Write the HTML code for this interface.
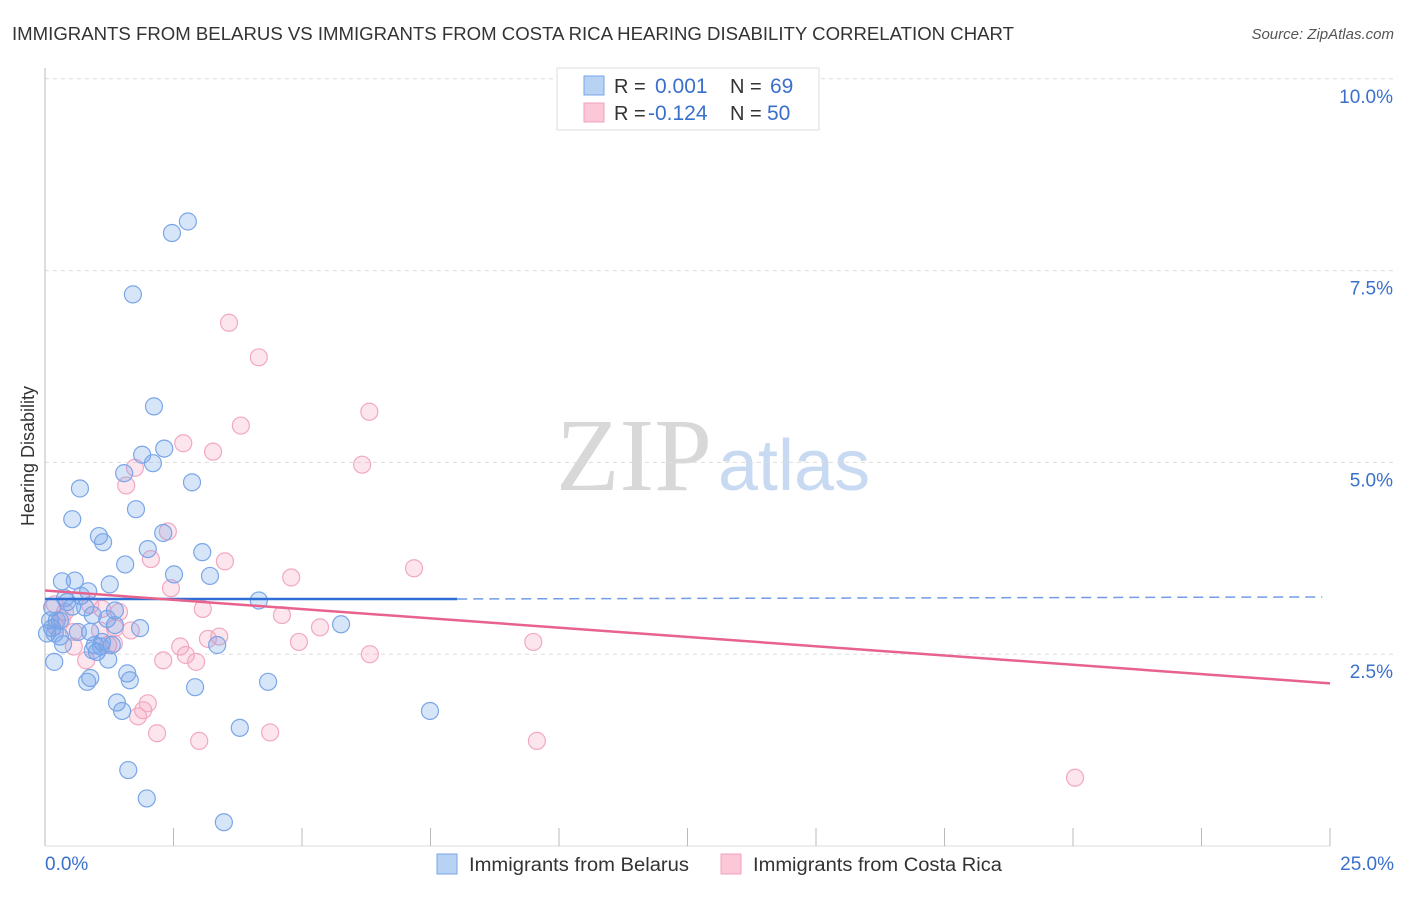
<!DOCTYPE html>
<html><head><meta charset="utf-8"><style>
body{margin:0;background:#fff;font-family:"Liberation Sans",sans-serif;}
svg text{font-family:"Liberation Sans",sans-serif;}
</style></head><body>
<svg id="chart" width="1406" height="892" xmlns="http://www.w3.org/2000/svg">
<text x="12" y="40" font-size="18" fill="#333" textLength="1002" lengthAdjust="spacingAndGlyphs">IMMIGRANTS FROM BELARUS VS IMMIGRANTS FROM COSTA RICA HEARING DISABILITY CORRELATION CHART</text>
<text x="1394" y="39" font-size="15" fill="#555" text-anchor="end" font-style="italic">Source: ZipAtlas.com</text>
<text x="712" y="490" font-size="104" fill="#d8d8d8" text-anchor="end" style="font-family:'Liberation Serif',serif">ZIP</text>
<text x="718" y="490" font-size="72" fill="#c8daf2">atlas</text>
<text x="34" y="456" font-size="18" fill="#333" text-anchor="middle" transform="rotate(-90 34 456)">Hearing Disability</text>
<g id="grid"></g><g id="axes"></g><g id="pts"></g><g id="trend"></g>
<g>
<rect x="557" y="68" width="262" height="62" fill="#fff" stroke="#ddd"/>
<rect x="584" y="76" width="20" height="19" fill="#b8d2f4" stroke="#7aa6e8"/>
<rect x="584" y="103" width="20" height="19" fill="#fcc8d8" stroke="#f0a0bc"/>
<text x="614" y="93" font-size="20" fill="#333">R = </text><text x="655" y="93" font-size="21" fill="#3a70cc">0.001</text>
<text x="730" y="93" font-size="20" fill="#333">N = </text><text x="770" y="93" font-size="21" fill="#3a70cc">69</text>
<text x="614" y="120" font-size="20" fill="#333">R = </text><text x="648" y="120" font-size="21" fill="#3a70cc">-0.124</text>
<text x="730" y="120" font-size="20" fill="#333">N = </text><text x="767" y="120" font-size="21" fill="#3a70cc">50</text>
</g>
<g>
<rect x="437" y="854" width="20" height="20" fill="#b8d2f4" stroke="#7aa6e8"/>
<text x="469" y="871" font-size="19" fill="#333" textLength="220" lengthAdjust="spacingAndGlyphs">Immigrants from Belarus</text>
<rect x="721" y="854" width="20" height="20" fill="#fcc8d8" stroke="#f0a0bc"/>
<text x="753" y="871" font-size="19" fill="#333" textLength="249" lengthAdjust="spacingAndGlyphs">Immigrants from Costa Rica</text>
</g>
</svg>
<script>
const blueX=[2.78,2.47,1.71,2.12,1.89,2.32,2.10,1.54,2.86,0.68,1.77,0.53,1.05,1.13,2.30,2.00,3.06,1.56,2.51,3.21,0.33,0.58,1.26,0.84,0.70,0.43,4.16,0.53,0.14,1.36,0.93,1.21,0.29,1.36,1.85,5.76,0.14,0.04,0.29,0.88,0.23,0.35,0.97,1.11,1.30,3.35,1.01,1.23,0.18,1.60,1.65,0.88,0.82,4.34,2.92,1.40,1.50,7.49,3.79,1.62,1.98,3.48,0.10,0.19,0.93,1.09,0.39,0.78,0.64];
const blueY=[8.14,7.99,7.19,5.73,5.10,5.18,4.99,4.86,4.74,4.66,4.39,4.26,4.04,3.96,4.08,3.87,3.83,3.67,3.54,3.52,3.45,3.46,3.41,3.32,3.26,3.18,3.20,3.12,3.11,3.07,3.01,2.96,2.94,2.88,2.84,2.89,2.84,2.77,2.73,2.79,2.94,2.63,2.62,2.66,2.62,2.62,2.53,2.43,2.40,2.25,2.16,2.19,2.14,2.14,2.07,1.87,1.76,1.76,1.54,0.99,0.62,0.31,2.94,2.77,2.55,2.60,3.23,3.11,2.79];
const pinkX=[3.58,4.16,6.31,3.81,2.69,3.27,1.75,6.17,1.58,2.39,2.06,3.50,7.18,4.79,2.45,0.19,1.11,1.44,3.07,4.61,0.39,5.35,1.67,1.36,0.21,0.56,4.94,9.50,2.63,3.17,3.39,1.23,1.34,2.74,2.94,2.30,6.32,0.80,2.00,1.91,1.81,2.18,3.00,4.38,9.57,20.04,0.33,1.07,0.88,0.56];
const pinkY=[6.82,6.37,5.66,5.48,5.25,5.14,4.93,4.97,4.70,4.10,3.74,3.71,3.62,3.50,3.36,3.15,3.09,3.05,3.09,3.01,3.05,2.85,2.81,2.84,2.86,2.79,2.66,2.66,2.60,2.70,2.73,2.62,2.64,2.49,2.40,2.42,2.50,2.42,1.86,1.77,1.69,1.47,1.37,1.48,1.37,0.89,2.96,2.81,3.14,2.60];
const blueTrend=[3.22,3.22]; const blueSolidEnd=8.02; const blueDashEnd=24.85;
const pinkTrend=[3.33,2.12];
const yTicks=[2.5,5.0,7.5,10.0];
const yTickLabels=["2.5%","5.0%","7.5%","10.0%"];
const xTicks=[0,2.5,5,7.5,10,12.5,15,17.5,20,22.5,25];
const NS="http://www.w3.org/2000/svg";
const X0=45,X1=1330,Y0=846,YT=78.8;
const sx=v=>X0+(v/25)*(X1-X0);
const sy=v=>Y0-(v/10)*(Y0-YT);
function mk(t,a,p){const e=document.createElementNS(NS,t);for(const k in a)e.setAttribute(k,a[k]);p.appendChild(e);return e;}
const grid=document.getElementById('grid'),axes=document.getElementById('axes'),pts=document.getElementById('pts'),tr=document.getElementById('trend');
yTicks.forEach((v,i)=>{
 const l=mk('line',{x1:X0,x2:1394,y1:sy(v),y2:sy(v),stroke:'#ddd','stroke-dasharray':'4,4'},grid);
 
 
 const t=mk('text',{x:1393,y:sy(v)+24,'font-size':19,fill:'#3a70cc','text-anchor':'end'},axes);
 t.textContent=yTickLabels[i];
 
 
});
const ax=mk('line',{x1:X0,x2:X0,y1:68,y2:Y0,stroke:'#bbb'},axes);


const bx=mk('line',{x1:X0,x2:X1,y1:Y0,y2:Y0,stroke:'#ddd'},axes);


xTicks.forEach(v=>{
 const l=mk('line',{x1:sx(v),x2:sx(v),y1:Y0,y2:828,stroke:'#bbb'},axes);
 
 
});
const xl=mk('text',{x:45,y:870,'font-size':19,fill:'#3a70cc'},axes);xl.textContent='0.0%';


const xr=mk('text',{x:1394,y:870,'font-size':19,fill:'#3a70cc','text-anchor':'end'},axes);xr.textContent='25.0%';


pinkX.forEach((v,i)=>{
 const c=mk('circle',{cx:sx(v),cy:sy(pinkY[i]),r:8.5,fill:'rgba(244,160,190,0.28)',stroke:'#f2a8c2','stroke-width':1.2},pts);
 
 
});
blueX.forEach((v,i)=>{
 const c=mk('circle',{cx:sx(v),cy:sy(blueY[i]),r:8.5,fill:'rgba(110,160,235,0.28)',stroke:'#7aa6e8','stroke-width':1.2},pts);
 
 
});
const bSlope=(blueTrend[1]-blueTrend[0])/25;
const b1=mk('line',{x1:sx(0),y1:sy(blueTrend[0]),x2:sx(blueSolidEnd),y2:sy(blueTrend[0]+bSlope*blueSolidEnd),stroke:'#2f6fd6','stroke-width':2.5},tr);


const b2=mk('line',{x1:sx(blueSolidEnd),y1:sy(blueTrend[0]+bSlope*blueSolidEnd),x2:sx(blueDashEnd),y2:sy(blueTrend[0]+bSlope*blueDashEnd)-2,stroke:'#6f9de6','stroke-width':1.5,'stroke-dasharray':'10,6'},tr);


const p1=mk('line',{x1:sx(0),y1:sy(pinkTrend[0]),x2:sx(25),y2:sy(pinkTrend[1]),stroke:'#e8628e','stroke-width':2.5},tr);


</script>
</body></html>
